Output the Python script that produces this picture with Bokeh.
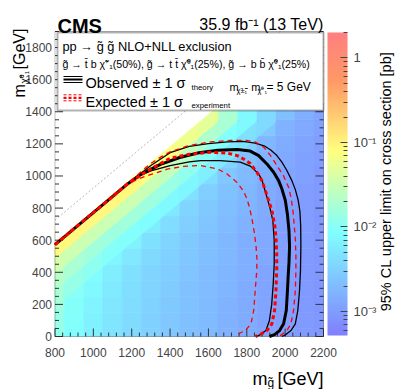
import math
import numpy as np
from bokeh.plotting import figure
from bokeh.models import (LogColorMapper, ColorBar, FixedTicker, CustomJSTickFormatter,
                          Label, BoxAnnotation, Arrow, ColumnDataSource)
from bokeh.embed import file_html
from bokeh.resources import INLINE

# ---------------- data ----------------
m_gluino = [800, 900, 1000, 1100, 1200, 1300, 1400, 1500, 1600, 1700, 1800, 1900, 2000, 2100, 2200]
mlsp_step = 100  # LSP mass of cell j is j * mlsp_step

# 95% CL upper limits [pb] per gluino-mass column, from m_LSP = 0 upwards
lim_0800 = [0.012, 0.013, 0.0145, 0.017, 0.022, 0.035, 0.09]
lim_0900 = [0.0085, 0.009, 0.0095, 0.0105, 0.013, 0.018, 0.033, 0.09]
lim_1000 = [0.0062, 0.0064, 0.0068, 0.0075, 0.0085, 0.011, 0.016, 0.032, 0.09]
lim_1100 = [0.0048, 0.0049, 0.0051, 0.0054, 0.006, 0.0072, 0.0095, 0.015, 0.032, 0.09]
lim_1200 = [0.0038, 0.0039, 0.004, 0.0042, 0.0045, 0.0052, 0.0065, 0.009, 0.016, 0.032, 0.09]
lim_1300 = [0.0031, 0.0031, 0.0032, 0.0033, 0.0035, 0.0038, 0.0045, 0.0058, 0.0085, 0.015, 0.03, 0.08]
lim_1400 = [0.0026, 0.0026, 0.0027, 0.0028, 0.0029, 0.0031, 0.0034, 0.004, 0.0052, 0.0078, 0.014, 0.027, 0.07]
lim_1500 = [0.0022, 0.0022, 0.0023, 0.0023, 0.0024, 0.0025, 0.0027, 0.003, 0.0035, 0.0046, 0.007, 0.012, 0.024, 0.06]
lim_1600 = [0.0019, 0.0019, 0.0019, 0.002, 0.002, 0.0021, 0.0022, 0.0024, 0.0027, 0.003, 0.004, 0.0062, 0.0105, 0.02, 0.05]
lim_1700 = [0.0016, 0.0016, 0.0016, 0.0017, 0.0017, 0.0018, 0.0018, 0.0019, 0.0021, 0.0023, 0.0026, 0.0035, 0.0052, 0.009, 0.018]
lim_1800 = [0.0014, 0.0014, 0.0014, 0.0014, 0.0015, 0.0015, 0.0015, 0.0016, 0.0017, 0.0018, 0.0019, 0.0022, 0.003, 0.0045, 0.0075]
lim_1900 = [0.0012, 0.0012, 0.0012, 0.0012, 0.0012, 0.0013, 0.0013, 0.0013, 0.0014, 0.0014, 0.0015, 0.0016, 0.0018, 0.0026, 0.0038]
lim_2000 = [0.00105, 0.00105, 0.00105, 0.00105, 0.0011, 0.0011, 0.0011, 0.0011, 0.0011, 0.0012, 0.0012, 0.0013, 0.0014, 0.0016, 0.0022]
lim_2100 = [0.00095, 0.00095, 0.00095, 0.00095, 0.00095, 0.00095, 0.001, 0.001, 0.001, 0.001, 0.0011, 0.0011, 0.0012, 0.0013, 0.0015]
lim_2200 = [0.0009, 0.0009, 0.0009, 0.0009, 0.0009, 0.0009, 0.0009, 0.0009, 0.0009, 0.00095, 0.00095, 0.001, 0.001, 0.0011, 0.0012]
lim_columns = [lim_0800, lim_0900, lim_1000, lim_1100, lim_1200, lim_1300, lim_1400, lim_1500,
               lim_1600, lim_1700, lim_1800, lim_1900, lim_2000, lim_2100, lim_2200]

kin_gap = 215   # no signal points above m_LSP = m_gluino - kin_gap
ref_gap = 75    # grey dotted reference diagonal
n_diag_bands = 4  # cells nearest the kinematic edge are drawn as bands parallel to it

# Observed (thick) and +-1 sigma theory (thin) contours
obs_x = [800, 1000, 1180, 1250, 1350, 1450, 1550, 1650, 1750, 1818, 1862, 1905, 1940, 1966, 1983, 2001,
         2012, 2020, 2023, 2020, 2016, 2012, 2006, 1992, 1971, 1945, 1918]
obs_y = [572, 772, 952, 1012, 1072, 1115, 1145, 1160, 1165, 1155, 1127, 1075, 1023, 971, 920, 847,
         760, 660, 560, 460, 380, 286, 162, 79, 37, 12, 0]
obs_up_x = [800, 1000, 1180, 1230, 1300, 1400, 1500, 1600, 1700, 1780, 1844, 1890, 1925, 1957, 1983,
            2009, 2035, 2053, 2068, 2077, 2081, 2082, 2080, 2075, 2066, 2053, 2030, 2004, 1983]
obs_up_y = [572, 772, 952, 1000, 1065, 1145, 1185, 1202, 1212, 1215, 1204, 1188, 1162, 1127, 1086,
            1034, 971, 915, 850, 780, 690, 560, 411, 286, 162, 79, 37, 12, 0]
obs_dn_x = [800, 1000, 1180, 1240, 1300, 1400, 1500, 1560, 1660, 1766, 1818, 1862, 1880, 1905, 1922,
            1936, 1943, 1943, 1938, 1930, 1918, 1900, 1868, 1850]
obs_dn_y = [572, 772, 952, 1000, 1032, 1065, 1088, 1096, 1096, 1086, 1062, 1013, 971, 868, 795,
            722, 598, 452, 330, 200, 100, 37, 10, 0]

# Expected (thick) and +-1 sigma experiment (thin) contours
exp_x = [800, 1000, 1180, 1240, 1300, 1400, 1500, 1610, 1700, 1750, 1783, 1818, 1853, 1879, 1896,
         1914, 1931, 1945, 1952, 1956, 1956, 1952, 1945, 1931, 1905, 1872, 1845]
exp_y = [572, 772, 952, 1000, 1044, 1110, 1135, 1148, 1142, 1127, 1106, 1078, 1023, 971, 912,
         847, 784, 700, 620, 520, 411, 286, 162, 79, 37, 14, 0]
exp_up_x = [800, 1000, 1180, 1220, 1290, 1350, 1400, 1500, 1610, 1714, 1800, 1844, 1888, 1922, 1957,
            1992, 2018, 2030, 2040, 2046, 2053, 2056, 2056, 2053, 2044, 2030, 2009, 1983, 1966]
exp_up_y = [572, 772, 952, 995, 1070, 1117, 1150, 1190, 1212, 1222, 1222, 1212, 1180, 1130, 1065,
            1000, 930, 868, 795, 712, 608, 504, 411, 286, 162, 79, 37, 12, 0]
exp_dn_x = [800, 1000, 1170, 1230, 1297, 1384, 1471, 1558, 1645, 1697, 1749, 1783, 1801, 1815, 1827,
            1839, 1848, 1853, 1852, 1844, 1836, 1822, 1792, 1757, 1740]
exp_dn_y = [572, 772, 942, 980, 1008, 1042, 1060, 1065, 1045, 1013, 960, 905, 857, 800, 733,
            650, 567, 483, 411, 286, 162, 79, 37, 17, 0]

# axes
XMIN, XMAX, YMIN, YMAX = 800, 2200, 0, 1900
x_ticks = [800, 1000, 1200, 1400, 1600, 1800, 2000, 2200]
x_tick_labels = ["800", "1000", "1200", "1400", "1600", "1800", "2000", "2200"]
y_ticks = [0, 200, 400, 600, 800, 1000, 1200, 1400, 1600, 1800]
y_tick_labels = ["0", "200", "400", "600", "800", "1000", "1200", "1400", "1600", "1800"]
x_minor_step, y_minor_step = 40, 50

cbar_low, cbar_high = 5.2e-4, 2.0
cbar_ticks = [0.001, 0.01, 0.1, 1]

# ---------------- layout (canvas pixels, origin top-left) ----------------
W, H = 396, 389
PL, PR, PT, PB = 54.5, 323, 31, 336           # plot area in canvas pixels
KX = (PR - PL) / (XMAX - XMIN)
KY = (PB - PT) / (YMAX - YMIN)
FONT = "Liberation Sans"


def DX(ix):
    return XMIN + (ix - PL) / KX


def DY(iy):
    return YMIN + (PB - iy) / KY


# SUSY palette (pastel rainbow)
stops = [0.0, 0.34, 0.61, 0.84, 1.0]
red = [0.5, 0.5, 1.0, 1.0, 1.0]
green = [0.5, 1.0, 1.0, 0.6, 0.5]
blue = [1.0, 1.0, 0.5, 0.4, 0.5]
palette = []
for t in np.linspace(0, 1, 255):
    r, g, b = (int(round(255 * np.interp(t, stops, c))) for c in (red, green, blue))
    palette.append("#%02x%02x%02x" % (r, g, b))
mapper = LogColorMapper(palette=palette, low=cbar_low, high=cbar_high)

p = figure(width=W, height=H, x_range=(DX(0), DX(W)), y_range=(DY(H), DY(0)),
           output_backend="svg", toolbar_location=None, min_border=0,
           x_axis_location=None, y_axis_location=None)
p.grid.grid_line_color = None
p.outline_line_color = None
p.background_fill_color = "white"
p.border_fill_color = "white"

# heat map cells (clipped to the plot area)
ql, qr, qb, qt, qv = [], [], [], [], []
for mg, col in zip(m_gluino, lim_columns):
    for j, v in enumerate(col):
        y = j * mlsp_step
        ql.append(max(XMIN, mg - 50))
        qr.append(min(XMAX, mg + 50))
        qb.append(max(YMIN, y - mlsp_step / 2))
        qt.append(min(YMAX, y + mlsp_step / 2))
        qv.append(v)
src = ColumnDataSource(dict(left=ql, right=qr, bottom=qb, top=qt, v=qv))
p.quad(left="left", right="right", bottom="bottom", top="top", source=src,
       fill_color={"field": "v", "transform": mapper},
       line_color={"field": "v", "transform": mapper}, line_width=0.6)

# cells next to the kinematic edge, drawn as bands parallel to it
bxs, bys, bv = [], [], []
for mg, col in zip(m_gluino, lim_columns):
    top_j = (mg - kin_gap + mlsp_step // 2) // mlsp_step
    for k in range(n_diag_bands):
        j = top_j - k
        if j < 0 or j >= len(col):
            continue
        dlo = kin_gap + mlsp_step * k - (20 if k == 0 else 0)
        dhi = kin_gap + mlsp_step * (k + 1)
        x0, x1 = max(XMIN, mg - 50), min(XMAX, mg + 50)
        bxs.append([x0, x1, x1, x0])
        bys.append([x0 - dhi, x1 - dhi, x1 - dlo, x0 - dlo])
        bv.append(col[j])
bsrc = ColumnDataSource(dict(xs=bxs, ys=bys, v=bv))
p.patches(xs="xs", ys="ys", source=bsrc,
          fill_color={"field": "v", "transform": mapper},
          line_color={"field": "v", "transform": mapper}, line_width=0.6)

# white region above the kinematic limit
p.patch(x=[XMIN, YMAX + kin_gap, XMIN], y=[XMIN - kin_gap, YMAX, YMAX],
        fill_color="white", line_color=None)

# grey dotted diagonal
p.line(x=[XMIN, YMAX + ref_gap], y=[XMIN - ref_gap, YMAX], line_color="#b8b8b8",
       line_width=1, line_dash="2 2")

# tick marks (pointing into the plot, ROOT style)
TICK_MAJ, TICK_MIN = 8, 4   # pixels
x_minor = [v for v in range(XMIN, XMAX + 1, x_minor_step) if v not in x_ticks]
y_minor = [v for v in range(YMIN, YMAX + 1, y_minor_step) if v not in y_ticks]
sx0, sy0, sx1, sy1 = [], [], [], []
for v in x_ticks + x_minor:
    L = (TICK_MAJ if v in x_ticks else TICK_MIN) / KY
    sx0.append(v); sy0.append(YMIN); sx1.append(v); sy1.append(YMIN + L)
for v in y_ticks + y_minor:
    L = (TICK_MAJ if v in y_ticks else TICK_MIN) / KX
    sx0 += [XMIN, XMAX]; sy0 += [v, v]; sx1 += [XMIN + L, XMAX - L]; sy1 += [v, v]
p.segment(x0=sx0, y0=sy0, x1=sx1, y1=sy1, line_color="#333333", line_width=1)

# contours
p.line(obs_up_x, obs_up_y, line_color="black", line_width=1.3)
p.line(obs_dn_x, obs_dn_y, line_color="black", line_width=1.3)
p.line(obs_x, obs_y, line_color="black", line_width=3)
p.line(exp_up_x, exp_up_y, line_color="#ff0000", line_width=1.3, line_dash="5 4")
p.line(exp_dn_x, exp_dn_y, line_color="#ff0000", line_width=1.3, line_dash="5 4")
p.line(exp_x, exp_y, line_color="#ff0000", line_width=3, line_dash="4 3")

# white page edge
p.add_layout(BoxAnnotation(left=DX(0), right=DX(6), bottom=DY(H), top=DY(0),
                           fill_color="white", fill_alpha=1.0, line_color=None))

# frame outline
p.add_layout(BoxAnnotation(left=XMIN, right=XMAX, bottom=YMIN, top=YMAX, fill_alpha=0,
                           line_color="#222222", line_width=1))

# colour bar
minor = [m * 10.0 ** e for e in range(-4, 1) for m in range(2, 10)]
minor = [v for v in minor if cbar_low <= v <= cbar_high]
cb = ColorBar(color_mapper=mapper, width=20, height=303, padding=0, margin=0,
              location=(327, H - 335),
              ticker=FixedTicker(ticks=cbar_ticks, minor_ticks=minor),
              formatter=CustomJSTickFormatter(code="""
                  const e = Math.round(Math.log10(tick));
                  const sup = {"-4": "\u207b\u2074", "-3": "\u207b\u00b3", "-2": "\u207b\u00b2", "-1": "\u207b\u00b9"};
                  return e === 0 ? "1" : "10" + sup[String(e)];
              """),
              label_standoff=6, major_label_text_font=FONT, major_label_text_font_size="13px",
              major_tick_in=7, major_tick_out=0, minor_tick_in=4, minor_tick_out=0,
              major_tick_line_color="#444444", minor_tick_line_color="#444444",
              bar_line_color=None, border_line_color=None, background_fill_color=None)
p.add_layout(cb)

# legend box
p.add_layout(BoxAnnotation(left=DX(57), right=DX(323), bottom=DY(110), top=DY(32),
                           fill_color="white", fill_alpha=1.0, line_color="black", line_width=2))


def lab(text, ix, iy, size, align="left", angle=0.0, style="normal", baseline="alphabetic"):
    p.add_layout(Label(x=DX(ix), y=DY(iy), text=text, text_font=FONT, text_font_size="%gpx" % size,
                       text_align=align, text_baseline=baseline, angle=angle,
                       text_font_style=style, text_color="black"))


def seg(ix0, ix1, iy, color, width, dash="solid"):
    p.add_layout(Arrow(x_start=DX(ix0), y_start=DY(iy), x_end=DX(ix1), y_end=DY(iy), start=None, end=None,
                       line_color=color, line_width=width, line_dash=dash))


# tick labels
for v, t in zip(x_ticks, x_tick_labels):
    p.add_layout(Label(x=v, y=DY(351.5), text=t, text_font=FONT, text_font_size="12px",
                       text_align="center", text_baseline="alphabetic"))
for v, t in zip(y_ticks, y_tick_labels):
    p.add_layout(Label(x=DX(51.5), y=v, text=t, text_font=FONT, text_font_size="12px",
                       text_align="right", text_baseline="middle"))

# header
lab("CMS", 57, 25, 20, style="bold")
lab("35.9 fb\u207b\u00b9 (13 TeV)", 323, 24, 16, align="right")

# legend contents
lab("pp \u2192 g\u0303 g\u0303  NLO+NLL exclusion", 62, 46, 12.8)
lab("g\u0303 \u2192 t\u0304 b \u03c7\u0303\u207a\u2081(50%), g\u0303 \u2192 t t\u0304 \u03c7\u0303\u2070\u2081(25%), "
    "g\u0303 \u2192 b b\u0304 \u03c7\u0303\u2070\u2081(25%)", 62, 63, 10.6)
seg(63, 82, 76, "black", 1.0)
seg(63, 82, 79, "black", 2.2)
seg(63, 82, 82, "black", 1.0)
lab("Observed \u00b1 1 \u03c3", 85, 82.5, 14.5)
lab("theory", 191, 86.5, 7.8)
seg(63, 82, 94.3, "#ff0000", 1.0, "3 2")
seg(63, 82, 97.3, "#ff0000", 2.2, "3 2")
seg(63, 82, 100.3, "#ff0000", 1.0, "3 2")
lab("Expected \u00b1 1 \u03c3", 85, 101, 14.5)
lab("experiment", 191, 105, 7.8)
lab("m", 229, 86, 11)
lab("\u03c7\u0303\u00b1\u2081", 236, 90, 7.5)
lab("- m", 244, 86, 11)
lab("\u03c7\u0303\u2070\u2081", 257, 90, 7.5)
lab("= 5 GeV", 266, 86, 12)

# axis titles
lab("m", 252, 378, 18)
lab("g\u0303", 267, 382, 12)
lab("[GeV]", 277, 378, 18)
lab("m", 19, 97, 16, angle=math.pi / 2)
lab("\u03c7\u0303\u2070\u2081", 24, 83, 10, angle=math.pi / 2)
lab("[GeV]", 19, 69, 16, angle=math.pi / 2)
lab("95% CL upper limit on cross section [pb]", 385.5, 181, 14.5, align="center", angle=math.pi / 2)

open("out.html", "w").write(file_html(p, INLINE))
